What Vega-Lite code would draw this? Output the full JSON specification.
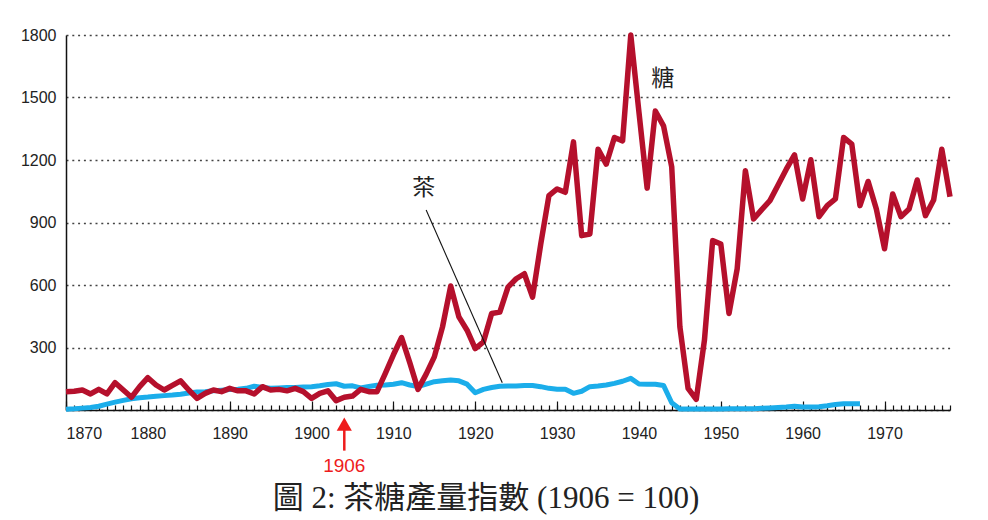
{
  "$schema": "https://vega.github.io/schema/vega-lite/v6.json",
  "autosize": "none",
  "width": 884,
  "height": 375,
  "padding": {"left": 66, "top": 35, "right": 38, "bottom": 110},
  "background": "#ffffff",
  "config": {
    "view": {"stroke": null},
    "axisY": {
      "ticks": false,
      "labelPadding": 10,
      "labelFont": "Liberation Sans",
      "labelFontSize": 16,
      "labelColor": "#222222",
      "domainColor": "#111111",
      "domainWidth": 1.5,
      "gridColor": "#444444",
      "gridDash": [2, 3.8],
      "gridWidth": 1.4
    }
  },
  "title": {
    "text": "圖 2: 茶糖產量指數 (1906 = 100)",
    "orient": "bottom",
    "anchor": "middle",
    "dx": -22,
    "offset": 8,
    "font": "Liberation Serif, Noto Sans CJK TC",
    "fontSize": 31,
    "fontWeight": "normal",
    "color": "#222222"
  },
  "datasets": {
    "series": [
      {"year":1870,"sugar":88,"tea":4},{"year":1871,"sugar":90,"tea":6},{"year":1872,"sugar":96,"tea":9},{"year":1873,"sugar":77,"tea":12},{"year":1874,"sugar":99,"tea":18},
      {"year":1875,"sugar":77,"tea":28},{"year":1876,"sugar":131,"tea":38},{"year":1877,"sugar":96,"tea":46},{"year":1878,"sugar":61,"tea":54},{"year":1879,"sugar":112,"tea":59},
      {"year":1880,"sugar":155,"tea":62},{"year":1881,"sugar":120,"tea":66},{"year":1882,"sugar":96,"tea":69},{"year":1883,"sugar":118,"tea":72},{"year":1884,"sugar":140,"tea":76},
      {"year":1885,"sugar":96,"tea":82},{"year":1886,"sugar":56,"tea":86},{"year":1887,"sugar":80,"tea":88},{"year":1888,"sugar":96,"tea":92},{"year":1889,"sugar":88,"tea":95},
      {"year":1890,"sugar":104,"tea":98},{"year":1891,"sugar":92,"tea":100},{"year":1892,"sugar":92,"tea":104},{"year":1893,"sugar":77,"tea":114},{"year":1894,"sugar":112,"tea":108},
      {"year":1895,"sugar":96,"tea":104},{"year":1896,"sugar":99,"tea":106},{"year":1897,"sugar":92,"tea":108},{"year":1898,"sugar":104,"tea":108},{"year":1899,"sugar":88,"tea":110},
      {"year":1900,"sugar":56,"tea":112},{"year":1901,"sugar":80,"tea":116},{"year":1902,"sugar":92,"tea":122},{"year":1903,"sugar":45,"tea":126},{"year":1904,"sugar":61,"tea":114},
      {"year":1905,"sugar":67,"tea":116},{"year":1906,"sugar":99,"tea":106},{"year":1907,"sugar":88,"tea":113},{"year":1908,"sugar":88,"tea":119},{"year":1909,"sugar":175,"tea":120},
      {"year":1910,"sugar":265,"tea":124},{"year":1911,"sugar":348,"tea":131},{"year":1912,"sugar":227,"tea":120},{"year":1913,"sugar":99,"tea":112},{"year":1914,"sugar":172,"tea":124},
      {"year":1915,"sugar":255,"tea":136},{"year":1916,"sugar":399,"tea":140},{"year":1917,"sugar":595,"tea":144},{"year":1918,"sugar":447,"tea":140},{"year":1919,"sugar":383,"tea":124},
      {"year":1920,"sugar":295,"tea":83},{"year":1921,"sugar":327,"tea":99},{"year":1922,"sugar":463,"tea":108},{"year":1923,"sugar":470,"tea":114},{"year":1924,"sugar":590,"tea":115},
      {"year":1925,"sugar":630,"tea":115},{"year":1926,"sugar":654,"tea":118},{"year":1927,"sugar":542,"tea":118},{"year":1928,"sugar":796,"tea":112},{"year":1929,"sugar":1029,"tea":104},
      {"year":1930,"sugar":1061,"tea":100},{"year":1931,"sugar":1045,"tea":100},{"year":1932,"sugar":1287,"tea":80},{"year":1933,"sugar":837,"tea":90},{"year":1934,"sugar":845,"tea":112},
      {"year":1935,"sugar":1252,"tea":115},{"year":1936,"sugar":1180,"tea":120},{"year":1937,"sugar":1308,"tea":128},{"year":1938,"sugar":1292,"tea":138},{"year":1939,"sugar":1800,"tea":152},
      {"year":1940,"sugar":1429,"tea":125},{"year":1941,"sugar":1065,"tea":124},{"year":1942,"sugar":1435,"tea":124},{"year":1943,"sugar":1364,"tea":118},{"year":1944,"sugar":1168,"tea":35},
      {"year":1945,"sugar":399,"tea":5},{"year":1946,"sugar":104,"tea":5},{"year":1947,"sugar":51,"tea":5},{"year":1948,"sugar":335,"tea":5},{"year":1949,"sugar":813,"tea":5},
      {"year":1950,"sugar":797,"tea":5},{"year":1951,"sugar":463,"tea":6},{"year":1952,"sugar":678,"tea":6},{"year":1953,"sugar":1148,"tea":6},{"year":1954,"sugar":917,"tea":6},
      {"year":1955,"sugar":962,"tea":8},{"year":1956,"sugar":1005,"tea":10},{"year":1957,"sugar":1080,"tea":12},{"year":1958,"sugar":1156,"tea":14},{"year":1959,"sugar":1225,"tea":18},
      {"year":1960,"sugar":1013,"tea":14},{"year":1961,"sugar":1201,"tea":14},{"year":1962,"sugar":928,"tea":16},{"year":1963,"sugar":981,"tea":20},{"year":1964,"sugar":1013,"tea":26},
      {"year":1965,"sugar":1308,"tea":30},{"year":1966,"sugar":1276,"tea":30},{"year":1967,"sugar":981,"tea":30},{"year":1968,"sugar":1097,"tea":null},{"year":1969,"sugar":965,"tea":null},
      {"year":1970,"sugar":774,"tea":null},{"year":1971,"sugar":1037,"tea":null},{"year":1972,"sugar":928,"tea":null},{"year":1973,"sugar":965,"tea":null},{"year":1974,"sugar":1104,"tea":null},
      {"year":1975,"sugar":933,"tea":null},{"year":1976,"sugar":1008,"tea":null},{"year":1977,"sugar":1252,"tea":null},{"year":1978,"sugar":1024,"tea":null}
    ]
  },
  "resolve": {"axis": {"x": "independent", "y": "shared"}},
  "layer": [
    {
      "data": {"name": "series"},
      "transform": [{"filter": "datum.tea != null"}],
      "mark": {"type": "line", "color": "#1badea", "strokeWidth": 5, "strokeJoin": "round"},
      "encoding": {
        "x": {
          "field": "year", "type": "quantitative",
          "scale": {"domain": [1870, 1978], "nice": false, "zero": false},
          "axis": {
            "title": null, "labels": false, "domain": false, "grid": false, "orient": "bottom",
            "values": [1870,1871,1872,1873,1874,1875,1876,1877,1878,1879,1880,1881,1882,1883,1884,1885,1886,1887,1888,1889,1890,1891,1892,1893,1894,1895,1896,1897,1898,1899,1900,1901,1902,1903,1904,1905,1906,1907,1908,1909,1910,1911,1912,1913,1914,1915,1916,1917,1918,1919,1920,1921,1922,1923,1924,1925,1926,1927,1928,1929,1930,1931,1932,1933,1934,1935,1936,1937,1938,1939,1940,1941,1942,1943,1944,1945,1946,1947,1948,1949,1950,1951,1952,1953,1954,1955,1956,1957,1958,1959,1960,1961,1962,1963,1964,1965,1966,1967,1968,1969,1970,1971,1972,1973,1974,1975,1976,1977,1978],
            "tickSize": -5, "tickColor": "#111111", "tickWidth": 1.2
          }
        },
        "y": {
          "field": "tea", "type": "quantitative",
          "scale": {"domain": [0, 1800], "nice": false},
          "axis": {"title": null, "values": [0, 300, 600, 900, 1200, 1500, 1800], "labelExpr": "datum.value == 0 ? '' : datum.label", "format": "d", "grid": true}
        }
      }
    },
    {
      "data": {"name": "series"},
      "mark": {"type": "line", "color": "#b5102c", "strokeWidth": 5.5, "strokeJoin": "round"},
      "encoding": {
        "x": {
          "field": "year", "type": "quantitative",
          "axis": {
            "title": null, "orient": "bottom",
            "values": [1870,1880,1890,1900,1910,1920,1930,1940,1950,1960,1970],
            "format": "d",
            "tickSize": -9, "tickColor": "#111111", "tickWidth": 1.2,
            "domainColor": "#111111", "domainWidth": 1.5,
            "grid": false,
            "labelPadding": 24,
            "labelDx": 4,
            "labelFont": "Liberation Sans",
            "labelFontSize": 16,
            "labelColor": "#222222"
          }
        },
        "y": {
          "field": "sugar", "type": "quantitative",
          "axis": {"title": null, "values": [0, 300, 600, 900, 1200, 1500, 1800], "labelExpr": "datum.value == 0 ? '' : datum.label", "format": "d", "grid": true}
        }
      }
    },
    {
      "data": {"values": [{"x": 1914.0, "y": 960, "x2": 1923.3, "y2": 131}]},
      "mark": {"type": "rule", "color": "#111111", "strokeWidth": 1.1},
      "encoding": {
        "x": {"field": "x", "type": "quantitative", "axis": null},
        "y": {"field": "y", "type": "quantitative", "axis": {"title": null, "values": [0, 300, 600, 900, 1200, 1500, 1800], "labelExpr": "datum.value == 0 ? '' : datum.label", "format": "d", "grid": true}},
        "x2": {"field": "x2"},
        "y2": {"field": "y2"}
      }
    },
    {
      "data": {"values": [{"x": 1913.7, "y": 1068, "t": "茶"}, {"x": 1942.9, "y": 1587, "t": "糖"}]},
      "mark": {"type": "text", "font": "Noto Sans CJK TC", "fontSize": 23, "color": "#222222", "baseline": "middle", "align": "center"},
      "encoding": {
        "x": {"field": "x", "type": "quantitative", "axis": null},
        "y": {"field": "y", "type": "quantitative", "axis": {"title": null, "values": [0, 300, 600, 900, 1200, 1500, 1800], "labelExpr": "datum.value == 0 ? '' : datum.label", "format": "d", "grid": true}},
        "text": {"field": "t"}
      }
    },
    {
      "data": {"values": [{"x": 1904, "y": -96, "y2": -195}]},
      "mark": {"type": "rule", "color": "#ee1c1c", "strokeWidth": 2.5},
      "encoding": {
        "x": {"field": "x", "type": "quantitative", "axis": null},
        "y": {"field": "y", "type": "quantitative", "axis": {"title": null, "values": [0, 300, 600, 900, 1200, 1500, 1800], "labelExpr": "datum.value == 0 ? '' : datum.label", "format": "d", "grid": true}},
        "y2": {"field": "y2"}
      }
    },
    {
      "data": {"values": [{"x": 1904, "y": -68}]},
      "mark": {"type": "point", "shape": "triangle-up", "filled": true, "color": "#ee1c1c", "size": 230, "opacity": 1},
      "encoding": {
        "x": {"field": "x", "type": "quantitative", "axis": null},
        "y": {"field": "y", "type": "quantitative", "axis": {"title": null, "values": [0, 300, 600, 900, 1200, 1500, 1800], "labelExpr": "datum.value == 0 ? '' : datum.label", "format": "d", "grid": true}}
      }
    },
    {
      "data": {"values": [{"x": 1904, "y": -268, "t": "1906"}]},
      "mark": {"type": "text", "font": "Liberation Sans", "fontSize": 19, "color": "#ee1c1c", "baseline": "middle", "align": "center"},
      "encoding": {
        "x": {"field": "x", "type": "quantitative", "axis": null},
        "y": {"field": "y", "type": "quantitative", "axis": {"title": null, "values": [0, 300, 600, 900, 1200, 1500, 1800], "labelExpr": "datum.value == 0 ? '' : datum.label", "format": "d", "grid": true}},
        "text": {"field": "t"}
      }
    }
  ]
}
